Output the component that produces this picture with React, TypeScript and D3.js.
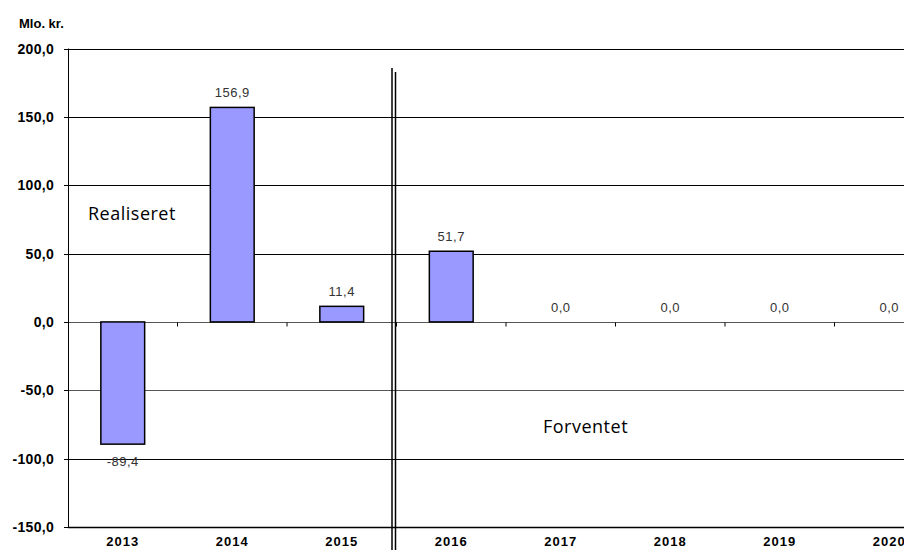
import React from "react";
import * as d3 from "d3";

const years = ["2013", "2014", "2015", "2016", "2017", "2018", "2019", "2020"];
const values = [-89.4, 156.9, 11.4, 51.7, 0, 0, 0, 0];
const valueLabels = ["-89,4", "156,9", "11,4", "51,7", "0,0", "0,0", "0,0", "0,0"];
const yTicks = [200, 150, 100, 50, 0, -50, -100, -150];
const yTickLabels = ["200,0", "150,0", "100,0", "50,0", "0,0", "-50,0", "-100,0", "-150,0"];

const W = 904;
const H = 550;
const left = 68;
const bandStep = 109.5;
const top = 48.5;
const bottom = 527;

export default function App() {
  const x = d3
    .scaleBand<string>()
    .domain(years)
    .range([left, left + bandStep * years.length])
    .paddingInner(0.6)
    .paddingOuter(0.3);
  const y = d3.scaleLinear().domain([-150, 200]).range([bottom, top]);
  const step = x.step();
  const sepX = left + step * 3 - 3;

  return (
    <svg
      width={W}
      height={H}
      style={{ position: "absolute", left: 0, top: 0, background: "#fff" }}
      fontFamily="'Liberation Sans', Arial, sans-serif"
    >
      <rect x={0} y={0} width={W} height={H} fill="#fff" />
      {yTicks.map((t) => (
        <line key={"g" + t} x1={left} x2={W} y1={Math.round(y(t)) + 0.5} y2={Math.round(y(t)) + 0.5} stroke={t === 0 || t === -50 ? "#555" : "#000"} strokeWidth={t === -150 ? 1.5 : 1} />
      ))}
      {yTicks.map((t, i) => (
        <g key={"t" + t}>
          <line x1={left - 4} x2={left} y1={Math.round(y(t)) + 0.5} y2={Math.round(y(t)) + 0.5} stroke="#000" />
          <text x={left - 14} y={y(t) + 5} textAnchor="end" fontSize={14} letterSpacing={0.3} fontWeight="bold" fill="#000">
            {yTickLabels[i]}
          </text>
        </g>
      ))}
      <line x1={left + 0.5} x2={left + 0.5} y1={top} y2={bottom} stroke="#000" />
      {years.map((yr, i) =>
        i > 0 ? (
          <line key={"ct" + yr} x1={left + step * i} x2={left + step * i} y1={Math.round(y(0)) + 0.5} y2={Math.round(y(0)) + 4.5} stroke="#000" />
        ) : null
      )}
      {years.map((yr, i) =>
        values[i] !== 0 ? (
          <rect
            key={"b" + yr}
            x={x(yr)!}
            width={x.bandwidth()}
            y={y(Math.max(0, values[i]))}
            height={Math.abs(y(values[i]) - y(0))}
            fill="#9999FF"
            stroke="#000"
            strokeWidth={1.5}
          />
        ) : null
      )}
      {years.map((yr, i) => (
        <text
          key={"v" + yr}
          x={x(yr)! + x.bandwidth() / 2}
          y={values[i] < 0 ? y(values[i]) + 22 : y(values[i]) - 10}
          textAnchor="middle"
          fontSize={13}
          letterSpacing={0.5}
          fill="#333"
        >
          {valueLabels[i]}
        </text>
      ))}
      {years.map((yr) => (
        <text key={"c" + yr} x={x(yr)! + x.bandwidth() / 2} y={546} textAnchor="middle" fontSize={13} letterSpacing={1} fontWeight="bold" fill="#000">
          {yr}
        </text>
      ))}
      <line x1={sepX - 1.5} x2={sepX - 1.5} y1={68} y2={550} stroke="#000" strokeWidth={1.5} />
      <line x1={sepX + 2} x2={sepX + 2} y1={72} y2={550} stroke="#000" strokeWidth={1.5} />
      <text x={19} y={28} fontSize={13} fontWeight="bold" fill="#000">Mlo. kr.</text>
      <text x={88} y={220} fontSize={18} letterSpacing={0.5} fontFamily="'Open Sans', sans-serif" fill="#000">Realiseret</text>
      <text x={543} y={433} fontSize={18} letterSpacing={0.5} fontFamily="'Open Sans', sans-serif" fill="#000">Forventet</text>
    </svg>
  );
}
